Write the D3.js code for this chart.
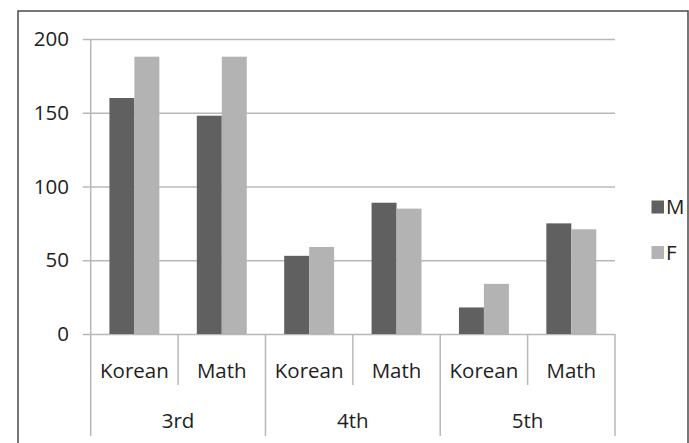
<!DOCTYPE html>
<html>
<head>
<meta charset="utf-8">
<script src="https://cdn.jsdelivr.net/npm/d3@7"></script>
<style>
  html, body { margin: 0; padding: 0; background: #fff; }
  svg { display: block; }
  text { font-family: "Open Sans", "Noto Sans", sans-serif; fill: #1e1e1e; }
</style>
</head>
<body>
<svg id="chart" width="689" height="443"></svg>
<script>
// Grades (outer groups) and subjects (inner categories)
const grades = ["3rd", "4th", "5th"];
const subjects = ["Korean", "Math"];
const seriesNames = ["M", "F"];
// Values per grade/subject, in the order of `grades` x `subjects`
const valuesM = [160, 148, 53, 89, 18, 75];
const valuesF = [188, 188, 59, 85, 34, 71];
const yTicks = [0, 50, 100, 150, 200];

const colors = { M: "#606060", F: "#b3b3b3" };
const gridColor = "#b8b8b8";

const svg = d3.select("#chart");

// Outer chart frame
svg.append("rect")
  .attr("x", 18).attr("y", 11)
  .attr("width", 670).attr("height", 460)
  .attr("fill", "none")
  .attr("stroke", "#555")
  .attr("stroke-width", 1.6);

const plot = { left: 90.7, right: 615, top: 39, bottom: 334 };

// Flattened category list: one entry per grade/subject pair
const cats = [];
grades.forEach((g, gi) => subjects.forEach((s, si) => cats.push({ grade: g, subject: s, key: g + "|" + s, i: gi * subjects.length + si })));

const x0 = d3.scaleBand()
  .domain(cats.map(d => d.key))
  .range([plot.left, plot.right])
  .paddingInner(0).paddingOuter(0);

const x1 = d3.scaleBand()
  .domain(seriesNames)
  .range([0, x0.bandwidth()])
  .paddingInner(0).paddingOuter(0.75);

const y = d3.scaleLinear().domain([0, 200]).range([plot.bottom, plot.top]);

// Horizontal gridlines with short ticks to the left of the axis
const yAxis = d3.axisLeft(y)
  .tickValues(yTicks)
  .tickSize(-(plot.right - plot.left))
  .tickSizeOuter(0)
  .tickPadding(22);

const gy = svg.append("g")
  .attr("transform", `translate(${plot.left},0)`)
  .call(yAxis);
gy.select(".domain").remove();
gy.selectAll(".tick line")
  .attr("x1", -8)
  .attr("stroke", gridColor)
  .attr("stroke-width", 1.5);
gy.selectAll(".tick text")
  .attr("x", 69 - plot.left)
  .style("font-size", "20.5px")
  .attr("fill", "#1e1e1e");

// Bars
const barG = svg.append("g");
cats.forEach(c => {
  const vals = { M: valuesM[c.i], F: valuesF[c.i] };
  seriesNames.forEach(s => {
    barG.append("rect")
      .attr("x", x0(c.key) + x1(s))
      .attr("y", y(vals[s]))
      .attr("width", x1.bandwidth())
      .attr("height", y(0) - y(vals[s]))
      .attr("fill", colors[s]);
  });
});

// Vertical value axis line
svg.append("line")
  .attr("x1", plot.left).attr("x2", plot.left)
  .attr("y1", plot.top).attr("y2", plot.bottom)
  .attr("stroke", gridColor).attr("stroke-width", 1.5);

// Category axis: inner dividers between subjects, long dividers between grades
const innerDividerBottom = 385;
const outerDividerBottom = 436;
const boundaries = d3.range(cats.length + 1).map(i => i < cats.length ? x0(cats[i].key) : plot.right);
boundaries.forEach((bx, i) => {
  const isGroupEdge = i % subjects.length === 0;
  svg.append("line")
    .attr("x1", bx).attr("x2", bx)
    .attr("y1", plot.bottom)
    .attr("y2", isGroupEdge ? outerDividerBottom : innerDividerBottom)
    .attr("stroke", gridColor).attr("stroke-width", 1.5);
});

// Subject labels
svg.append("g").selectAll("text")
  .data(cats)
  .join("text")
  .attr("x", d => x0(d.key) + x0.bandwidth() / 2)
  .attr("y", 378)
  .attr("text-anchor", "middle")
  .style("font-size", "20.5px")
  .text(d => d.subject);

// Grade labels centred under their pair of subjects
svg.append("g").selectAll("text")
  .data(grades)
  .join("text")
  .attr("x", (g, gi) => {
    const a = x0(cats[gi * subjects.length].key);
    const b = x0(cats[gi * subjects.length + subjects.length - 1].key) + x0.bandwidth();
    return (a + b) / 2;
  })
  .attr("y", 428)
  .attr("text-anchor", "middle")
  .style("font-size", "20.5px")
  .text(d => d);

// Legend
const legend = svg.append("g");
const legendRows = [{ name: "M", y: 207 }, { name: "F", y: 252.5 }];
legendRows.forEach(r => {
  legend.append("rect")
    .attr("x", 651.5).attr("y", r.y - 6.5)
    .attr("width", 12.5).attr("height", 13)
    .attr("fill", colors[r.name]);
  legend.append("text")
    .attr("x", 666).attr("y", r.y)
    .attr("dy", "0.36em")
    .style("font-size", "20.5px")
    .text(r.name);
});
</script>
</body>
</html>
